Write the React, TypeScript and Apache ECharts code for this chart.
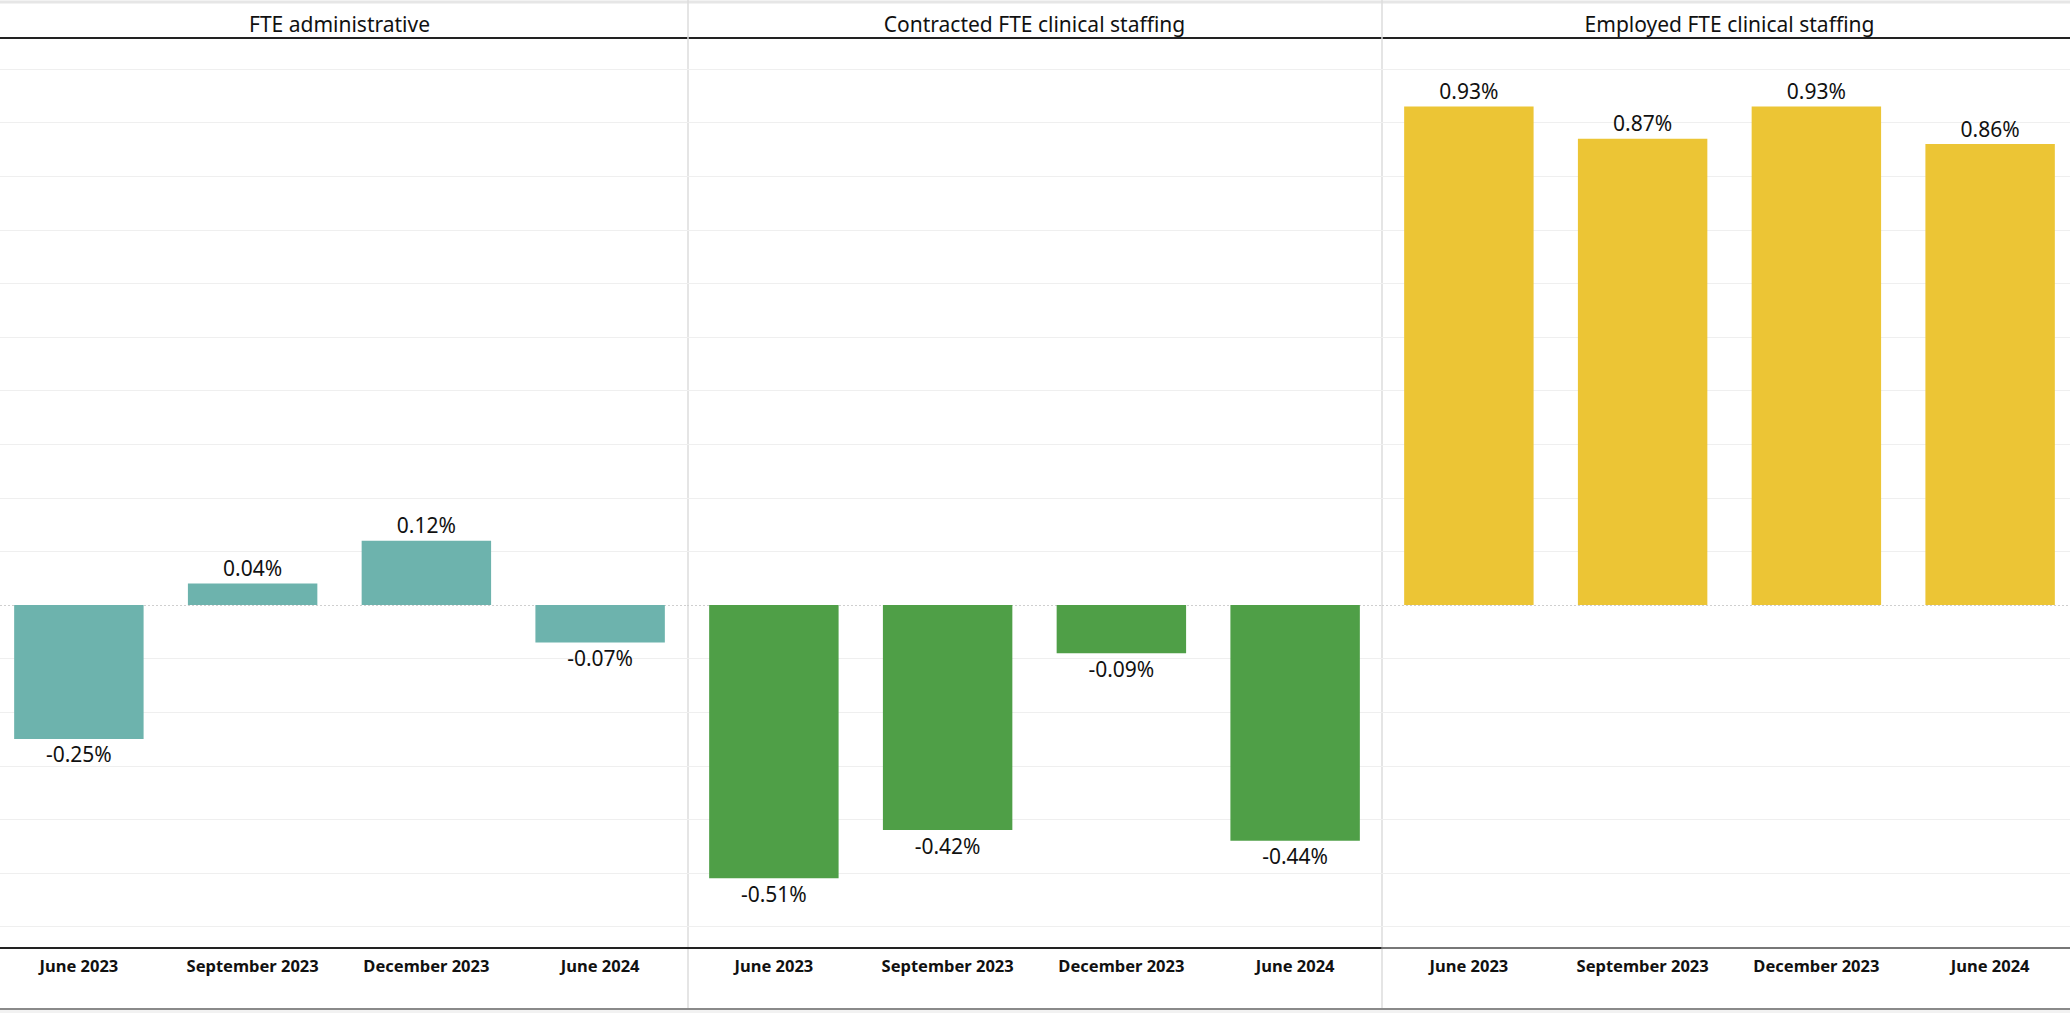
import React, { useEffect, useRef } from "react";
import * as echarts from "echarts";

const categories = ["June 2023", "September 2023", "December 2023", "June 2024"];
const panelTitles = ["FTE administrative", "Contracted FTE clinical staffing", "Employed FTE clinical staffing"];
const adminValues = [-0.25, 0.04, 0.12, -0.07];
const contractedValues = [-0.51, -0.42, -0.09, -0.44];
const employedValues = [0.93, 0.87, 0.93, 0.86];
const gridValues = [-0.6, -0.5, -0.4, -0.3, -0.2, -0.1, 0.1, 0.2, 0.3, 0.4, 0.5, 0.6, 0.7, 0.8, 0.9, 1.0];
const colors = ["#6db3ad", "#4f9f47", "#ecc535"];

const FONT = "'Noto Sans', 'Open Sans', sans-serif";
const OFFSET = 8; // chart canvas starts 8px left of the page edge

export default function App() {
  const ref = useRef<HTMLDivElement>(null);
  useEffect(() => {
    if (!ref.current) return;
    const chart = echarts.init(ref.current, null, { renderer: "svg" });
    const panelLeft = [0, 695, 1390];
    const panelWidth = 695;
    const seriesValues = [adminValues, contractedValues, employedValues];
    const axisColors = ["#222", "#222", "#777"];

    const grids = panelLeft.map((l) => ({ left: l, width: panelWidth, top: 38, bottom: 65 }));
    const xAxes = panelLeft.map((_, i) => ({
      type: "category",
      gridIndex: i,
      data: categories,
      axisTick: { show: false },
      axisLine: { onZero: false, lineStyle: { color: axisColors[i], width: 2 } },
      axisLabel: { interval: 0, color: "#111", fontFamily: FONT, fontSize: 16.5, fontWeight: "bold", margin: 9 },
      splitLine: { show: false },
    }));
    const yAxes = panelLeft.map((_, i) => ({
      type: "value",
      gridIndex: i,
      min: -0.64,
      max: 1.058,
      show: false,
      splitLine: { show: false },
    }));
    const series = seriesValues.map((vals, i) => ({
      type: "bar",
      xAxisIndex: i,
      yAxisIndex: i,
      barCategoryGap: "25.5%",
      itemStyle: { color: colors[i] },
      data: vals.map((v) => ({
        value: v,
        label: { position: v < 0 ? "bottom" : "top" },
      })),
      label: {
        show: true,
        color: "#111",
        fontFamily: FONT,
        fontSize: 21,
        distance: 5,
        formatter: (p: any) => p.value.toFixed(2) + "%",
      },
      markLine: {
        silent: true,
        symbol: "none",
        label: { show: false },
        z: 0,
        data: [
          ...gridValues.map((g) => ({ yAxis: g, lineStyle: { color: "#efefef", width: 1, type: "solid" } })),
          { yAxis: 0, lineStyle: { color: "#cfcfcf", width: 1, type: [2, 2] } },
        ],
      },
    }));

    const graphics: any[] = [];
    const centers = panelLeft.map((l) => l + panelWidth / 2);
    panelTitles.forEach((t, i) => {
      graphics.push({
        type: "text",
        x: centers[i],
        y: 24,
        style: {
          text: t,
          fill: "#111",
          font: `21px ${FONT}`,
          textAlign: "center",
          textVerticalAlign: "middle",
        },
      });
    });
    const W = 2070 + OFFSET * 2;
    graphics.push({ type: "line", shape: { x1: 0, y1: 2, x2: W, y2: 2 }, style: { stroke: "#e6e6e6", lineWidth: 3 } });
    graphics.push({ type: "line", shape: { x1: 0, y1: 38, x2: W, y2: 38 }, style: { stroke: "#222", lineWidth: 2 } });
    [688 + OFFSET, 1382 + OFFSET].forEach((x) => {
      graphics.push({ type: "line", shape: { x1: x, y1: 0, x2: x, y2: 1009 }, style: { stroke: "#dcdcdc", lineWidth: 1.5 } });
    });
    graphics.push({ type: "rect", shape: { x: 0, y: 1010, width: W, height: 3 }, style: { fill: "#f2f2f2" } });
    graphics.push({ type: "line", shape: { x1: 0, y1: 1009, x2: W, y2: 1009 }, style: { stroke: "#8a8a8a", lineWidth: 2 } });

    chart.setOption({
      animation: false,
      backgroundColor: "#ffffff",
      grid: grids,
      xAxis: xAxes,
      yAxis: yAxes,
      series,
      graphic: graphics,
    });
    return () => chart.dispose();
  }, []);
  return (
    <div style={{ position: "absolute", left: 0, top: 0, width: 2070, height: 1013, overflow: "hidden" }}>
      <div
        ref={ref}
        style={{ position: "absolute", left: -OFFSET, top: 0, width: 2070 + OFFSET * 2, height: 1013 }}
      />
    </div>
  );
}
